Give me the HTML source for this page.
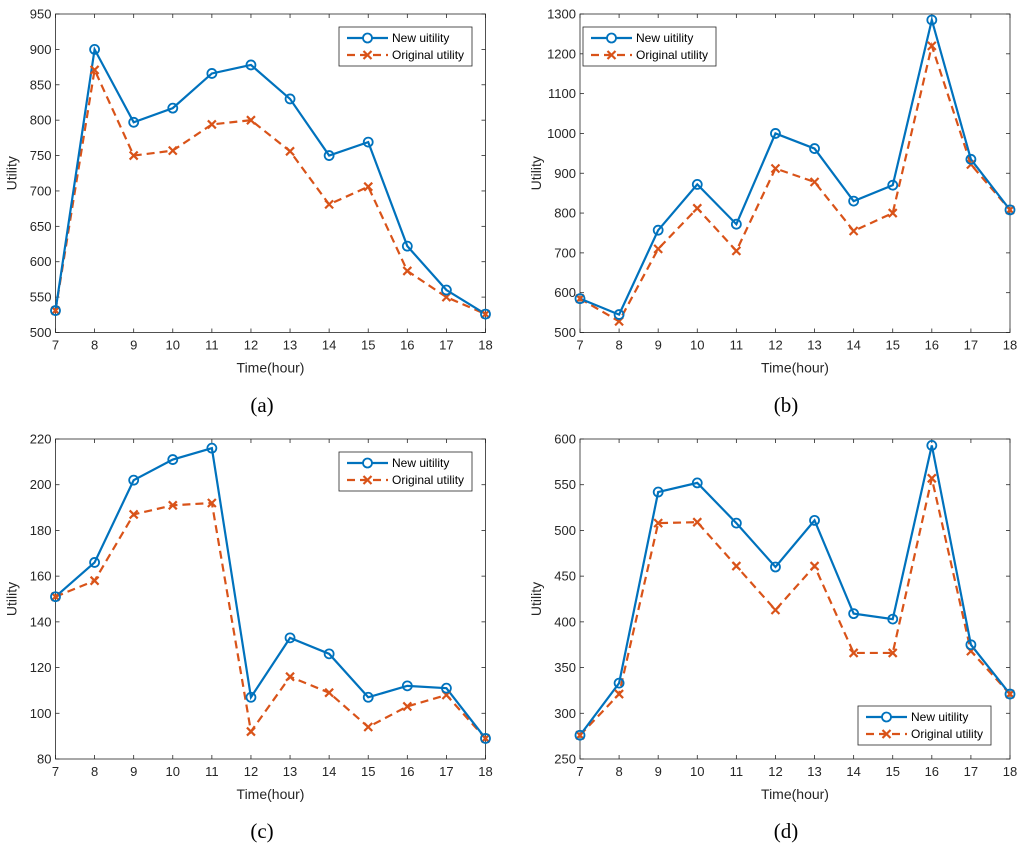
<!DOCTYPE html>
<html><head><meta charset="utf-8"><style>
body{margin:0;background:#fff;}
svg{display:block;font-family:"Liberation Sans",sans-serif;}
</style></head><body>
<svg id="fig" width="1024" height="851" viewBox="0 0 1024 851"></svg>
<script>
const hours=[7,8,9,10,11,12,13,14,15,16,17,18];
const newA=[531,900,797,817,866,878,830,750,769,622,560,526];
const origA=[531,871,750,757,794,800,756,681,706,587,550,526];
const newB=[585,545,757,872,772,1000,962,830,870,1285,935,808];
const origB=[585,528,710,812,705,912,878,755,800,1220,922,808];
const newC=[151,166,202,211,216,107,133,126,107,112,111,89];
const origC=[151,158,187,191,192,92,116,109,94,103,108,89];
const newD=[276,333,542,552,508,460,511,409,403,593,375,321];
const origD=[276,321,508,509,461,413,461,366,366,557,368,321];
const ticksA=[500,550,600,650,700,750,800,850,900,950];
const ticksB=[500,600,700,800,900,1000,1100,1200,1300];
const ticksC=[80,100,120,140,160,180,200,220];
const ticksD=[250,300,350,400,450,500,550,600];
const NS='http://www.w3.org/2000/svg';
const svg=document.getElementById('fig');
function mk(tag,attrs,parent){const e=document.createElementNS(NS,tag);for(const k in attrs)e.setAttribute(k,attrs[k]);(parent||svg).appendChild(e);return e;}
const panels=[
 {id:'a',L:55.5,R:485.5,T:14,B:332.5,nv:newA,ov:origA,ticks:ticksA,leg:[339,27],cap:[262,412]},
 {id:'b',L:580,R:1010,T:14,B:332.5,nv:newB,ov:origB,ticks:ticksB,leg:[583,27],cap:[786,412]},
 {id:'c',L:55.5,R:485.5,T:439,B:759,nv:newC,ov:origC,ticks:ticksC,leg:[339,452],cap:[262,838]},
 {id:'d',L:580,R:1010,T:439,B:759,nv:newD,ov:origD,ticks:ticksD,leg:[858,706],cap:[786,838]}
];
panels.forEach(p=>{
 const g=mk('g',{});
 
 
 const y0=p.ticks[0],y1=p.ticks[p.ticks.length-1];
 const xs=h=>p.L+(h-7)/(11)*(p.R-p.L);
 const ys=v=>p.B-(v-y0)/(y1-y0)*(p.B-p.T);
 const ax=mk('rect',{x:p.L,y:p.T,width:p.R-p.L,height:p.B-p.T,fill:'none',stroke:'#262626','stroke-width':0.8},g);
 
 
 p.ticks.forEach(t=>{const y=ys(t);
  mk('line',{x1:p.L,x2:p.L+4,y1:y,y2:y,stroke:'#262626','stroke-width':0.8},g);
  mk('line',{x1:p.R,x2:p.R-4,y1:y,y2:y,stroke:'#262626','stroke-width':0.8},g);
  const tx=mk('text',{x:p.L-4,y:y+4.5,'text-anchor':'end','font-size':13,fill:'#262626'},g);tx.textContent=t;
  
  
 });
 hours.forEach(h=>{const x=xs(h);
  mk('line',{x1:x,x2:x,y1:p.B,y2:p.B-4,stroke:'#262626','stroke-width':0.8},g);
  mk('line',{x1:x,x2:x,y1:p.T,y2:p.T+4,stroke:'#262626','stroke-width':0.8},g);
  const tx=mk('text',{x:x,y:p.B+17,'text-anchor':'middle','font-size':13,fill:'#262626'},g);tx.textContent=h;
  
  
 });
 const xl=mk('text',{x:(p.L+p.R)/2,y:p.B+40,'text-anchor':'middle','font-size':14,fill:'#262626'},g);xl.textContent='Time(hour)';
 
 
 const yc=(p.T+p.B)/2;
 const yl=mk('text',{x:p.L-39,y:yc,'text-anchor':'middle','font-size':14,fill:'#262626',transform:`rotate(-90 ${p.L-39} ${yc})`},g);yl.textContent='Utility';
 
 
 const cap=mk('text',{x:p.cap[0],y:p.cap[1],'text-anchor':'middle','font-size':21,fill:'#000','font-family':'Liberation Serif, serif'},g);cap.textContent='('+p.id+')';
 
 
 const po=p.ov.map((v,i)=>xs(hours[i])+','+ys(v)).join(' ');
 const lo=mk('polyline',{points:po,fill:'none',stroke:'#D95319','stroke-width':2.2,'stroke-dasharray':'8,5'},g);
 
 
 const pn=p.nv.map((v,i)=>xs(hours[i])+','+ys(v)).join(' ');
 const ln=mk('polyline',{points:pn,fill:'none',stroke:'#0072BD','stroke-width':2.2},g);
 
 
 p.ov.forEach((v,i)=>{const x=xs(hours[i]),y=ys(v);
  const m=mk('path',{d:`M${x-4},${y-4}L${x+4},${y+4}M${x-4},${y+4}L${x+4},${y-4}`,stroke:'#D95319','stroke-width':2.2},g);
  
  
 });
 p.nv.forEach((v,i)=>{const c=mk('circle',{cx:xs(hours[i]),cy:ys(v),r:4.5,fill:'none',stroke:'#0072BD','stroke-width':1.8},g);
  
  
 });
 const [lx,ly]=p.leg;
 const lg=mk('g',{},g);
 
 
 mk('rect',{x:lx,y:ly,width:133,height:39,fill:'#fff',stroke:'#262626','stroke-width':0.8},lg);
 mk('line',{x1:lx+8,x2:lx+49,y1:ly+11,y2:ly+11,stroke:'#0072BD','stroke-width':2.2},lg);
 mk('circle',{cx:lx+28.5,cy:ly+11,r:4.5,fill:'#fff',stroke:'#0072BD','stroke-width':1.8},lg);
 mk('line',{x1:lx+8,x2:lx+49,y1:ly+28,y2:ly+28,stroke:'#D95319','stroke-width':2.2,'stroke-dasharray':'8,5'},lg);
 mk('path',{d:`M${lx+24.5},${ly+24}l8,8M${lx+24.5},${ly+32}l8,-8`,stroke:'#D95319','stroke-width':2.2},lg);
 const t1=mk('text',{x:lx+53,y:ly+15,'font-size':12,fill:'#000'},lg);t1.textContent='New uitility';
 
 
 const t2=mk('text',{x:lx+53,y:ly+32,'font-size':12,fill:'#000'},lg);t2.textContent='Original utility';
 
 
});
</script>
</body></html>
